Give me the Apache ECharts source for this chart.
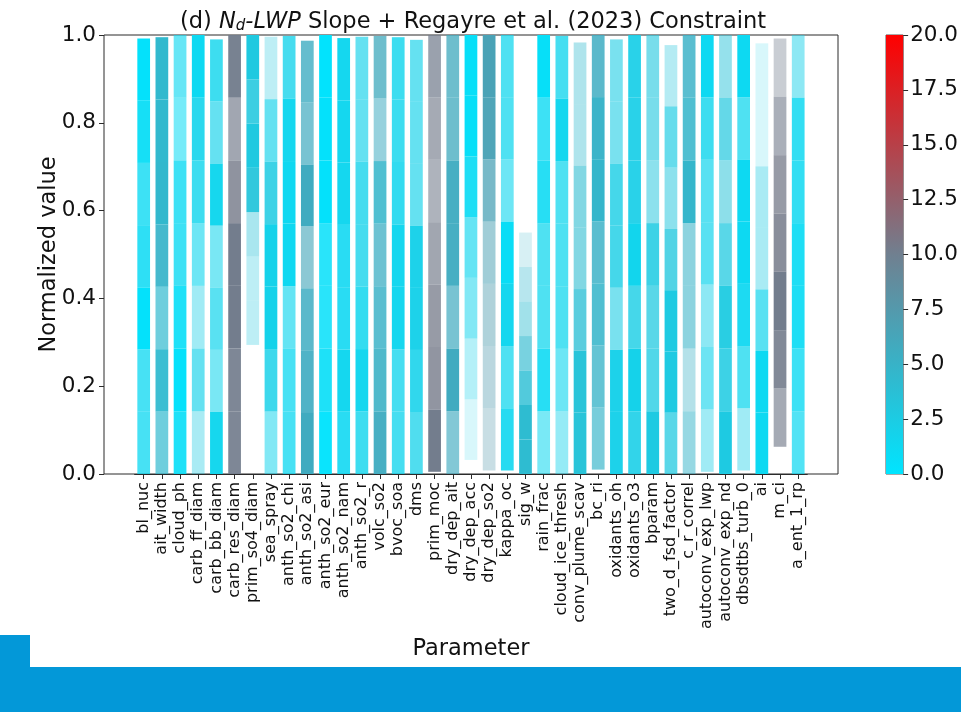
<!DOCTYPE html>
<html>
<head>
<meta charset="utf-8">
<script src="https://cdn.jsdelivr.net/npm/echarts@6/dist/echarts.min.js"></script>
<style>
  html, body { margin: 0; padding: 0; background: #ffffff; }
  #chart { width: 961px; height: 712px; }
</style>
</head>
<body>
<div id="chart"></div>
<script>
// Perturbed parameters along the x axis
const parameters = [
  'bl_nuc', 'ait_width', 'cloud_ph', 'carb_ff_diam', 'carb_bb_diam', 'carb_res_diam',
  'prim_so4_diam', 'sea_spray', 'anth_so2_chi', 'anth_so2_asi', 'anth_so2_eur',
  'anth_so2_nam', 'anth_so2_r', 'volc_so2', 'bvoc_soa', 'dms', 'prim_moc',
  'dry_dep_ait', 'dry_dep_acc', 'dry_dep_so2', 'kappa_oc', 'sig_w', 'rain_frac',
  'cloud_ice_thresh', 'conv_plume_scav', 'bc_ri', 'oxidants_oh', 'oxidants_o3',
  'bparam', 'two_d_fsd_factor', 'c_r_correl', 'autoconv_exp_lwp', 'autoconv_exp_nd',
  'dbsdtbs_turb_0', 'ai', 'm_ci', 'a_ent_1_rp'
];

// Constrained range of each parameter (normalized)
const lowerBound = [
  0, 0, 0, 0, 0, 0, 0.294, 0, 0, 0, 0, 0, 0, 0, 0, 0, 0.005, 0, 0.032, 0.008,
  0.008, 0, 0, 0, 0, 0.01, 0, 0, 0, 0, 0, 0.005, 0, 0.008, 0, 0.062, 0
];
const upperBound = [
  0.992, 0.995, 1, 1, 0.99, 1, 1, 0.996, 0.998, 0.987, 1, 0.993, 0.996, 0.998,
  0.995, 0.989, 1, 1, 1, 1, 1, 0.55, 1, 0.998, 0.983, 1, 0.99, 1, 1, 0.977, 1,
  1, 1, 1, 0.981, 0.992, 1
];

// Colour-scale value (0-20) of the 7 bins of each range, bottom to top
const binValue = [
  [1.3, 1.3, 0.4, 1.1, 1.1, 0.8, 0.4],
  [4.4, 4.3, 4.4, 4.9, 4.5, 4.4, 4.4],
  [0.7, 0.4, 0.7, 1.1, 1.1, 1.0, 1.3],
  [2.7, 1.9, 2.2, 1.5, 1.6, 1.7, 1.2],
  [1.5, 1.7, 1.7, 1.7, 1.5, 1.9, 1.6],
  [10.2, 10.2, 10.2, 10.2, 10.4, 10.3, 10.2],
  [3.1, 3.1, 3.7, 3.2, 2.8, 3.0, 2.8],
  [1.7, 2.1, 1.9, 1.9, 2.6, 1.9, 3.1],
  [1.3, 1.3, 1.5, 1.3, 1.3, 1.45, 1.8],
  [5.7, 5.6, 5.5, 6.2, 5.7, 5.8, 5.5],
  [0.2, 0.7, 0.5, 0.5, 0.4, 0.4, 0.2],
  [1.3, 1.45, 1.3, 1.3, 1.45, 1.45, 1.45],
  [1.6, 1.45, 1.5, 1.8, 1.8, 1.9, 1.9],
  [5.6, 5.2, 5.1, 5.4, 4.8, 5.6, 5.85],
  [1.6, 1.6, 1.45, 1.45, 1.6, 1.6, 1.6],
  [2.0, 1.9, 2.0, 2.0, 1.9, 1.9, 1.9],
  [10.2, 10.4, 10.4, 10.35, 10.3, 10.3, 10.2],
  [5.7, 5.7, 5.8, 5.6, 5.6, 5.85, 5.85],
  [2.0, 2.0, 1.7, 1.5, 1.0, 0.6, 0.6],
  [7.6, 7.3, 7.2, 6.8, 6.7, 6.6, 6.6],
  [1.4, 1.5, 1.45, 0.8, 1.5, 1.5, 1.5],
  [4.1, 4.1, 3.9, 4.3, 4.1, 4.5, 4.9],
  [1.4, 1.1, 1.5, 1.5, 1.1, 1.1, 0.6],
  [1.8, 1.5, 1.5, 1.5, 1.5, 1.45, 1.6],
  [3.4, 3.4, 3.8, 4.1, 4.1, 4.3, 4.3],
  [4.8, 5.0, 4.8, 5.1, 4.7, 5.0, 5.5],
  [2.0, 2.0, 2.45, 2.3, 2.3, 2.45, 2.45],
  [2.2, 1.9, 2.3, 1.6, 2.2, 2.2, 2.2],
  [2.65, 2.55, 2.8, 2.6, 3.1, 3.0, 3.0],
  [2.8, 2.65, 2.65, 3.0, 3.1, 2.5, 3.2],
  [4.9, 5.2, 5.0, 5.0, 4.7, 4.8, 5.1],
  [2.2, 1.7, 2.0, 1.7, 1.7, 1.6, 1.2],
  [2.65, 2.6, 2.6, 2.8, 3.5, 3.0, 3.5],
  [2.2, 1.5, 1.3, 1.2, 1.2, 1.5, 1.2],
  [1.2, 1.2, 1.7, 2.7, 2.7, 2.0, 2.0],
  [10.3, 10.3, 10.2, 10.4, 10.4, 10.3, 10.2],
  [1.3, 1.1, 1.0, 1.0, 1.26, 1.26, 2.0]
];

// Opacity of the 7 bins of each range, bottom to top
const binAlpha = [
  [0.77, 0.77, 1, 0.86, 0.8, 0.95, 1],
  [0.7, 0.94, 0.7, 0.93, 1, 1, 1],
  [0.91, 1, 0.91, 0.8, 0.8, 0.56, 0.63],
  [0.38, 0.66, 0.41, 0.61, 0.82, 0.9, 1],
  [0.98, 0.57, 0.7, 0.57, 0.98, 0.66, 0.82],
  [0.92, 0.92, 1, 1, 0.82, 0.68, 0.96],
  [0.3, 0.3, 0.4, 0.94, 1, 0.88, 1],
  [0.53, 0.84, 1, 1, 0.86, 0.66, 0.3],
  [0.77, 0.77, 0.65, 1, 1, 0.98, 0.79],
  [1, 0.91, 0.85, 0.62, 1, 0.71, 0.8],
  [0.97, 0.91, 0.86, 0.86, 1, 1, 1],
  [0.89, 0.98, 0.89, 0.89, 0.98, 0.98, 0.98],
  [0.82, 0.98, 0.86, 0.79, 0.79, 0.66, 0.66],
  [0.96, 0.89, 0.83, 0.75, 0.87, 0.55, 0.77],
  [0.78, 0.78, 0.98, 0.98, 0.86, 0.82, 0.82],
  [0.75, 0.88, 0.97, 0.97, 0.66, 0.66, 0.66],
  [1, 0.8, 0.76, 0.68, 0.58, 0.65, 0.72],
  [0.65, 1, 0.71, 0.96, 0.96, 0.77, 0.77],
  [0.17, 0.32, 0.53, 0.65, 0.92, 1, 1],
  [0.32, 0.4, 0.46, 0.53, 0.75, 0.97, 1],
  [0.9, 0.74, 0.98, 1, 0.61, 0.74, 0.74],
  [1, 1, 0.82, 0.65, 0.45, 0.35, 0.2],
  [0.56, 0.89, 0.74, 0.74, 0.89, 0.8, 1],
  [0.45, 0.61, 0.74, 0.74, 0.74, 0.98, 0.78],
  [0.99, 0.99, 0.78, 0.6, 0.6, 0.39, 0.39],
  [0.67, 0.78, 0.87, 0.83, 1, 0.98, 0.85],
  [0.97, 0.97, 0.59, 0.81, 0.81, 0.59, 0.59],
  [0.89, 1, 0.81, 1, 0.93, 0.93, 0.93],
  [1, 0.77, 0.74, 0.86, 0.52, 0.61, 0.61],
  [0.74, 1, 1, 0.79, 0.52, 0.68, 0.34],
  [0.52, 0.38, 0.58, 0.58, 1, 0.87, 0.83],
  [0.41, 0.62, 0.49, 0.7, 0.7, 0.82, 1],
  [1, 0.86, 0.95, 0.74, 0.53, 0.7, 0.49],
  [0.41, 0.74, 0.94, 1, 1, 0.74, 1],
  [1, 1, 0.7, 0.38, 0.38, 0.17, 0.17],
  [0.65, 0.9, 1, 0.86, 0.76, 0.61, 0.39],
  [0.72, 0.8, 0.92, 0.92, 0.85, 0.85, 0.49]
];

// Colour bar range
const colorMin = 0;
const colorMax = 20;
const colorStep = 2.5;

const FONT = 'DejaVu Sans';
const INK = '#111111';
const SPINE = '#2b2b2b';

// cyan -> slate grey -> red
const cmapStops = [
  [0.0, [0, 229, 255]],
  [0.5, [112, 128, 144]],
  [1.0, [255, 0, 0]]
];
function cmap(v) {
  const t = Math.max(0, Math.min(1, (v - colorMin) / (colorMax - colorMin)));
  for (let i = 1; i < cmapStops.length; i++) {
    const [t0, c0] = cmapStops[i - 1];
    const [t1, c1] = cmapStops[i];
    if (t <= t1) {
      const f = (t - t0) / (t1 - t0);
      return c0.map((c, k) => Math.round(c + f * (c1[k] - c)));
    }
  }
  return cmapStops[cmapStops.length - 1][1];
}
function rgba(v, a) {
  const c = cmap(v);
  return 'rgba(' + c[0] + ',' + c[1] + ',' + c[2] + ',' + a + ')';
}

const nBins = binValue[0].length;

// Invisible base so each stack starts at the lower bound
const series = [{
  type: 'bar',
  xAxisIndex: 1,
  yAxisIndex: 1,
  stack: 'range',
  barWidth: '70%',
  silent: true,
  itemStyle: { color: 'rgba(0,0,0,0)' },
  data: lowerBound.slice()
}];
for (let k = 0; k < nBins; k++) {
  series.push({
    type: 'bar',
    xAxisIndex: 1,
    yAxisIndex: 1,
    stack: 'range',
    barWidth: '70%',
    data: parameters.map((p, i) => ({
      value: (upperBound[i] - lowerBound[i]) / nBins,
      itemStyle: { color: rgba(binValue[i][k], binAlpha[i][k]) }
    }))
  });
}

// Colour bar
series.push({
  type: 'bar',
  xAxisIndex: 2,
  yAxisIndex: 2,
  barWidth: '100%',
  silent: true,
  data: [colorMax],
  itemStyle: {
    color: new echarts.graphic.LinearGradient(0, 1, 0, 0, [
      { offset: 0, color: 'rgb(' + cmap(colorMin).join(',') + ')' },
      { offset: 0.5, color: 'rgb(' + cmap((colorMin + colorMax) / 2).join(',') + ')' },
      { offset: 1, color: 'rgb(' + cmap(colorMax).join(',') + ')' }
    ])
  }
});

const chart = echarts.init(document.getElementById('chart'), null, { renderer: 'canvas' });

chart.setOption({
  backgroundColor: '#ffffff',
  animation: false,
  textStyle: { fontFamily: FONT, color: INK },
  title: {
    text: '(d) {it|N}{sub|d}{it|-LWP} Slope + Regayre et al. (2023) Constraint',
    left: 468,
    top: 6,
    textAlign: 'center',
    textStyle: {
      fontFamily: FONT,
      fontSize: 22.5,
      fontWeight: 'normal',
      color: INK,
      rich: {
        it: { fontFamily: FONT, fontSize: 22.5, fontStyle: 'italic', color: INK },
        sub: { fontFamily: FONT, fontSize: 15, fontStyle: 'italic', color: INK, verticalAlign: 'bottom', padding: [8, 0, 0, 0] }
      }
    }
  },
  grid: [
    { left: 104, top: 35, width: 734, height: 439, show: true, borderColor: SPINE, borderWidth: 1, backgroundColor: 'rgba(0,0,0,0)' },
    { left: 134.6, top: 35, width: 672.7, height: 439 },
    { left: 886, top: 35, width: 20, height: 439, show: true, borderColor: '#555555', borderWidth: 1, backgroundColor: 'rgba(0,0,0,0)' }
  ],
  xAxis: [
    { gridIndex: 0, type: 'value', min: 0, max: 1, show: false },
    {
      gridIndex: 1,
      type: 'category',
      data: parameters,
      name: 'Parameter',
      nameLocation: 'middle',
      nameGap: 164,
      nameMoveOverlap: false,
      nameTextStyle: { fontFamily: FONT, fontSize: 22.5, color: INK },
      axisLine: { show: true, lineStyle: { color: SPINE, width: 1 } },
      axisTick: { show: true, alignWithLabel: true, length: 5, lineStyle: { color: SPINE } },
      axisLabel: { interval: 0, rotate: 90, fontFamily: FONT, fontSize: 16, color: INK, margin: 8 },
      splitLine: { show: false }
    },
    { gridIndex: 2, type: 'category', data: ['c'], show: false }
  ],
  yAxis: [
    {
      gridIndex: 0,
      type: 'value',
      min: 0,
      max: 1,
      interval: 0.2,
      name: 'Normalized value',
      nameLocation: 'middle',
      nameGap: 43,
      nameMoveOverlap: false,
      nameTextStyle: { fontFamily: FONT, fontSize: 22.5, color: INK },
      axisLine: { show: false },
      axisTick: { show: true, length: 5, lineStyle: { color: SPINE } },
      axisLabel: { fontFamily: FONT, fontSize: 21.5, color: INK, margin: 8, formatter: v => v.toFixed(1) },
      splitLine: { show: false }
    },
    { gridIndex: 1, type: 'value', min: 0, max: 1, show: false },
    {
      gridIndex: 2,
      type: 'value',
      position: 'right',
      min: colorMin,
      max: colorMax,
      interval: colorStep,
      axisLine: { show: false },
      axisTick: { show: true, length: 5, lineStyle: { color: SPINE } },
      axisLabel: { fontFamily: FONT, fontSize: 21.5, color: INK, margin: 7, formatter: v => v.toFixed(1) },
      splitLine: { show: false }
    }
  ],
  graphic: [
    { type: 'rect', left: 0, top: 635, shape: { width: 30, height: 33 }, style: { fill: '#0398d8' }, silent: true },
    { type: 'rect', left: 0, top: 667, shape: { width: 961, height: 45 }, style: { fill: '#0398d8' }, silent: true }
  ],
  series: series
});
</script>
</body>
</html>
